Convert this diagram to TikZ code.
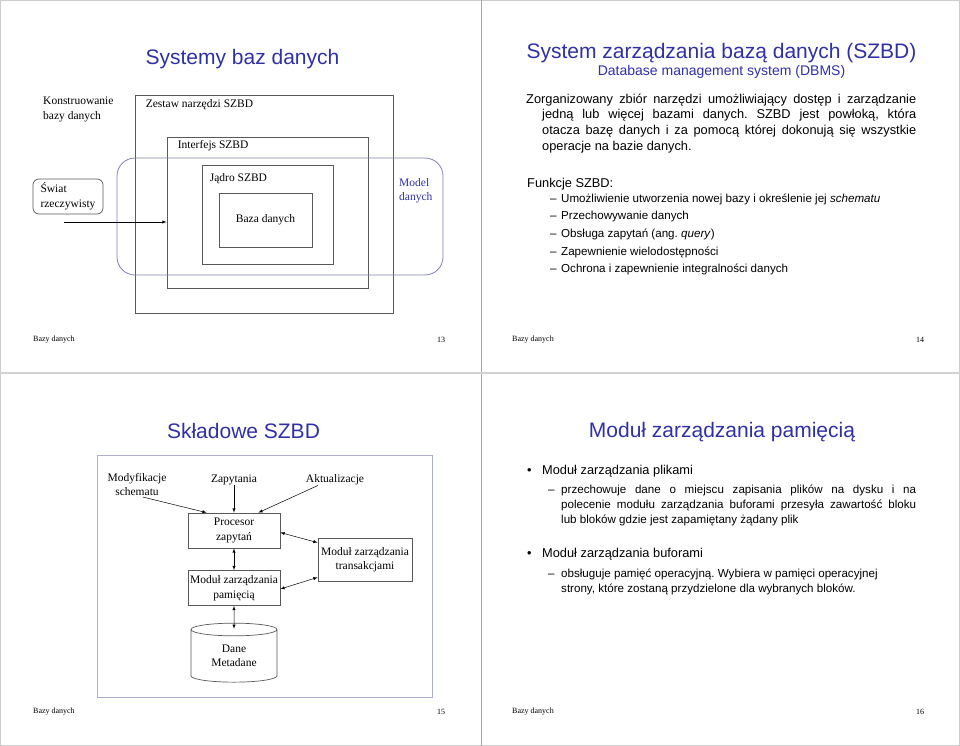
\documentclass[tikz,border=0pt]{standalone}
\usepackage{fontspec}
\setmainfont{Liberation Serif}
\setsansfont{Liberation Sans}
\usepackage{xcolor}
\usetikzlibrary{shapes,arrows,positioning,calc}
\frenchspacing

\definecolor{tytul}{RGB}{48,48,165}
\definecolor{modelline}{RGB}{128,128,180}
\definecolor{ramkaline}{RGB}{172,172,205}

\newcommand{\tytulfont}{\sffamily\fontsize{21}{25}\selectfont}
\newcommand{\podtytulfont}{\sffamily\fontsize{14}{17}\selectfont}
\newcommand{\trescfont}{\sffamily\fontsize{12.8}{15.7}\selectfont}
\newcommand{\punktfont}{\sffamily\fontsize{11.6}{15}\selectfont}
\newcommand{\schematfont}{\rmfamily\fontsize{11.5}{14.5}\selectfont}
\newcommand{\stopkafont}{\rmfamily\fontsize{8}{9}\selectfont}

\begin{document}
\begin{tikzpicture}[
            x=1pt, y=-1pt,
            node distance=57.5pt,
            slidetitle/.style={font=\tytulfont, text=tytul, inner sep=0pt},
            subtitle/.style={font=\podtytulfont, text=tytul, inner sep=0pt},
            body/.style={font=\trescfont, inner sep=0pt, anchor=west},
            item/.style={font=\punktfont, inner sep=0pt, anchor=west},
            para/.style={inner sep=0pt, anchor=north west, align=justify},
            box/.style={draw=black!65, line width=0.7pt, rectangle, inner sep=0pt, align=center, font=\schematfont},
            label/.style={font=\schematfont, inner sep=0pt, anchor=west, align=left},
            footer/.style={font=\stopkafont, inner sep=0pt},
            arrow/.style={-latex, line width=0.5pt},
            twoway/.style={latex-latex, line width=0.5pt}
        ]
            \useasboundingbox (0,0) rectangle (960,746);

            % Page frame
            \draw[gray!40, line width=1.2pt] (0.6,0.6) rectangle (959.4,745.4);
            \draw[gray!70, line width=0.8pt] (481,0) -- (481,746);
            \draw[gray!35, line width=2.5pt] (0,373) -- (960,373);

            % Slide 13
            \node[slidetitle] (tyt13) at (242.5,59.5) {Systemy baz danych};
            \node[label] (konstr) at (43,109.5) {Konstruowanie\\bazy danych};
            \node[box, minimum width=258pt, minimum height=218pt] (zestaw) at (264,204) {};
            \node[label] (zestawtxt) at ([xshift=11pt,yshift=-10pt]zestaw.north west) {Zestaw narzędzi SZBD};
            \node[box, minimum width=201pt, minimum height=151pt] (interfejs) at (267.5,212.5) {};
            \node[label] (interfejstxt) at ([xshift=11pt,yshift=-9pt]interfejs.north west) {Interfejs SZBD};
            \node[box, minimum width=131pt, minimum height=99pt] (jadro) at (267.5,214.5) {};
            \node[label] (jadrotxt) at ([xshift=8pt,yshift=-14pt]jadro.north west) {Jądro SZBD};
            \node[box, minimum width=93pt, minimum height=54pt] (baza) at (265.5,220) {Baza danych};
            \node[draw=modelline, line width=0.8pt, rounded corners=18pt, minimum width=326pt, minimum height=117pt] (model) at (280,216.5) {};
            \node[label, text=tytul] (modeltxt) at (399,191) {Model\\danych};
            \node[box, rounded corners=6pt, minimum width=70pt, minimum height=35pt, align=left] (swiat) at (68,196.5) {Świat\\rzeczywisty};
            \coordinate (swiatwy) at (64,222);
            \draw[arrow] (swiatwy) -- (swiatwy -| interfejs.west);

            % Slide 14
            \node[slidetitle] (tyt14) at (721.5,53) {System zarządzania bazą danych (SZBD)};
            \node[subtitle] (podtyt14) at (721.5,71.5) {Database management system (DBMS)};
            \node[para, font=\trescfont, text width=390pt] (opis) at (526,93.5) {\hangindent=16pt\hangafter=1 Zorganizowany zbiór narzędzi umożliwiający dostęp i zarządzanie\linebreak jedną lub więcej bazami danych. SZBD jest powłoką, która\linebreak otacza bazę danych i za pomocą której dokonują się wszystkie\linebreak operacje na bazie danych.\par};
            \node[body] (funkcje) at (527,184.5) {Funkcje SZBD:};
            \foreach \tekst [count=\i] in {{Umożliwienie utworzenia nowej bazy i określenie jej \textit{schematu}}, {Przechowywanie danych}, {Obsługa zapytań (ang. \textit{query})}, {Zapewnienie wielodostępności}, {Ochrona i zapewnienie integralności danych}}
                \node[item] (f\i) at (550,182+17.5*\i) {\makebox[11pt][l]{--}\tekst};

            % Slide 15
            \node[slidetitle] (tyt15) at (243.5,431) {Składowe SZBD};
            \node[draw=ramkaline, line width=0.8pt, inner sep=0pt, minimum width=335pt, minimum height=242pt] (ramka) at (264.5,576) {};
            \node[box, minimum width=92pt, minimum height=35pt] (procesor) at (234,530.5) {Procesor\\zapytań};
            \node[box, minimum width=92pt, minimum height=35pt, below of=procesor] (pamiec) {Moduł zarządzania\\pamięcią};
            \node[box, minimum width=94pt, minimum height=43pt] (transakcje) at (365,559.5) {Moduł zarządzania\\transakcjami};
            \node[box, cylinder, shape border rotate=90, aspect=0.28, minimum width=86pt, minimum height=59pt, below of=pamiec, yshift=-10.5pt] (dane) {Dane\\Metadane};
            \node[label, anchor=center, align=center] (modyf) at (137,484.5) {Modyfikacje\\schematu};
            \node[label, anchor=center] (zapyt) at (234,480) {Zapytania};
            \node[label, anchor=center] (aktual) at (335,480) {Aktualizacje};

            \draw[arrow] ([xshift=6pt,yshift=-1pt]modyf.south) -- ([xshift=19pt]procesor.north west);
            \draw[arrow] (zapyt) -- (procesor);
            \draw[arrow] ([xshift=-17pt]aktual.south) -- ([xshift=-22pt]procesor.north east);
            \draw[twoway] ([yshift=-2pt]procesor.east) -- ([yshift=-5pt]transakcje.north west);
            \draw[twoway] ([yshift=-1pt]pamiec.east) -- ([yshift=4pt]transakcje.south west);
            \draw[twoway] (procesor) -- (pamiec);
            \draw[twoway] (pamiec) -- ($(dane.north)+(0,6)$);

            % Slide 16
            \node[slidetitle] (tyt16) at (722,432) {Moduł zarządzania pamięcią};
            \node[body] (pliki) at (527,471.5) {\makebox[15pt][l]{\textbullet}Moduł zarządzania plikami};
            \node[para, font=\punktfont, text width=368pt] (plikiopis) at (548,485) {\hangindent=13pt\hangafter=1 \makebox[13pt][l]{--}przechowuje dane o miejscu zapisania plików na dysku i na\linebreak polecenie modułu zarządzania buforami przesyła zawartość bloku\linebreak lub bloków gdzie jest zapamiętany żądany plik\par};
            \node[body] (bufory) at (527,554.5) {\makebox[15pt][l]{\textbullet}Moduł zarządzania buforami};
            \node[para, font=\punktfont, text width=368pt] (buforyopis) at (548,568.5) {\hangindent=13pt\hangafter=1 \makebox[13pt][l]{--}obsługuje pamięć operacyjną. Wybiera w pamięci operacyjnej\hfill\break strony, które zostaną przydzielone dla wybranych bloków.\par};

            % Footers
            \foreach \fx/\fy/\nr in {33/339/13, 512/339/14, 33/711/15, 512/711/16} {
                \node[footer, anchor=west] (stopka\nr) at (\fx,\fy+1) {Bazy danych};
                \node[footer] (nr\nr) at (\fx+408,\fy+1) {\nr};
            }
        \end{tikzpicture}
\end{document}
